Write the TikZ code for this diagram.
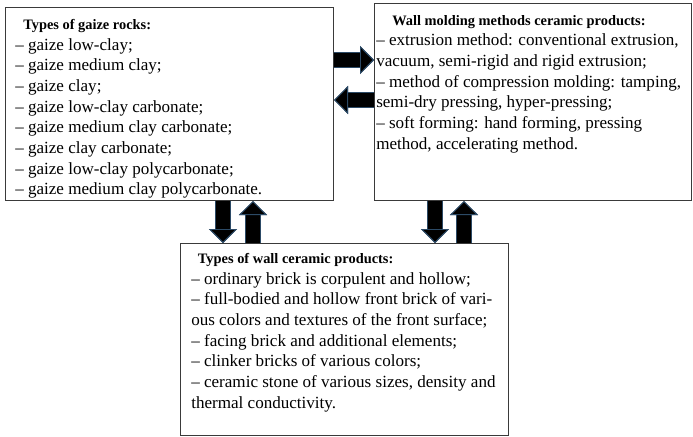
\documentclass[tikz,border=0pt]{standalone}
\usepackage{fontspec}
\setmainfont{Liberation Serif}
\usepackage{xcolor}
\usepackage{tikz}
\usetikzlibrary{arrows.meta}
\usetikzlibrary{positioning}

\definecolor{boxline}{HTML}{3A3A3A}
\definecolor{arrowline}{HTML}{2C4A66}
\newcommand{\boxhead}[1]{{\fontsize{10.8}{15.5}\selectfont\bfseries #1}}

\begin{document}
\begin{tikzpicture}[
  x=0.75pt, y=-0.75pt,
  box/.style={draw=boxline,line width=0.8pt,anchor=north west,inner sep=0pt},
  txt/.style={anchor=north west,align=left,inner sep=0pt,font=\fontsize{12.8}{15.5}\selectfont},
  fat/.style={line width=10.5pt,
    -{Triangle[width=21pt,length=10.5pt,line width=0.7pt,color=arrowline,fill=black]},
    preaction={draw=arrowline,line width=12pt}}
]
  \useasboundingbox (0,0) rectangle (693,436);

  % the three boxes
  \node[box,minimum width=246pt,minimum height=144.75pt] (g) at (5,7) {};
  \node[box,minimum width=237.75pt,minimum height=147.75pt] (w) at (374,3) {};
  \node[box,minimum width=246pt,minimum height=144pt] (p) at (180,243) {};

  \node[txt] (gtext) at (15,19) {\hspace*{6pt}\boxhead{Types of gaize rocks:}\\
    -- gaize low-clay;\\
    -- gaize medium clay;\\
    -- gaize clay;\\
    -- gaize low-clay carbonate;\\
    -- gaize medium clay carbonate;\\
    -- gaize clay carbonate;\\
    -- gaize low-clay polycarbonate;\\
    -- gaize medium clay polycarbonate.};

  \node[txt] (wtext) at (376,15) {\hspace*{12pt}\boxhead{Wall molding methods ceramic products:}\\
    -- extrusion method: conventional extrusion,\\
    vacuum, semi-rigid and rigid extrusion;\\
    -- method of compression molding: tamping,\\
    semi-dry pressing, hyper-pressing;\\
    -- soft forming: hand forming, pressing\\
    method, accelerating method.};

  \node[txt] (ptext) at (191,253) {\hspace*{5pt}\boxhead{Types of wall ceramic products:}\\
    -- ordinary brick is corpulent and hollow;\\
    -- full-bodied and hollow front brick of vari-\\
    ous colors and textures of the front surface;\\
    -- facing brick and additional elements;\\
    -- clinker bricks of various colors;\\
    -- ceramic stone of various sizes, density and\\
    thermal conductivity.};

  % block arrows
  \draw[fat] (g.east |- 0,60) -- (w.west |- 0,60);
  \draw[fat] (w.west |- 0,100) -- (g.east |- 0,100);
  \draw[fat] (g.south -| 223,0) -- (p.north -| 223,0);
  \draw[fat] (p.north -| 253,0) -- (g.south -| 253,0);
  \draw[fat] (w.south -| 435,0) -- (p.north -| 435,0);
  \draw[fat] (p.north -| 464,0) -- (w.south -| 464,0);
\end{tikzpicture}
\end{document}
